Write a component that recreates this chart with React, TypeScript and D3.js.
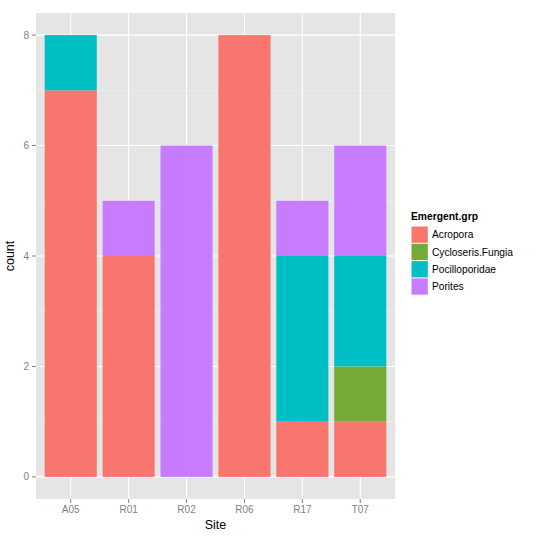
import React from "react";
import * as d3 from "d3";

const sites = ["A05", "R01", "R02", "R06", "R17", "T07"];
const groups = ["Acropora", "Cycloseris.Fungia", "Pocilloporidae", "Porites"];
const colors = ["#F8766D", "#73AA38", "#00BFC4", "#C77CFF"];
const acropora = [7, 4, 0, 8, 1, 1];
const cycloseris = [0, 0, 0, 0, 0, 1];
const pocilloporidae = [1, 0, 0, 0, 3, 2];
const porites = [0, 1, 6, 0, 1, 2];
const yTicks = [0, 2, 4, 6, 8];
const yMinor = [1, 3, 5, 7];

const W = 540, H = 537;
const panel = { left: 36, top: 13, right: 395, bottom: 499 };

export default function App() {
  const rows = sites.map((s, i) => ({
    site: s,
    Acropora: acropora[i],
    "Cycloseris.Fungia": cycloseris[i],
    Pocilloporidae: pocilloporidae[i],
    Porites: porites[i],
  }));
  const stack = d3.stack<any>().keys(groups)(rows);
  const n = sites.length;
  const xLin = d3.scaleLinear().domain([0.4, n + 0.6]).range([panel.left, panel.right]);
  const y = d3.scaleLinear().domain([-0.4, 8.4]).range([panel.bottom, panel.top]);
  const barW = xLin(1.45) - xLin(0.55);
  const color = d3.scaleOrdinal<string, string>().domain(groups).range(colors);
  const font = "Helvetica, Arial, 'Liberation Sans', sans-serif";

  return (
    <svg width={W} height={H} style={{ position: "absolute", left: 0, top: 0, background: "#fff" }} fontFamily={font}>
      <rect x={panel.left} y={panel.top} width={panel.right - panel.left} height={panel.bottom - panel.top} fill="#E5E5E5" />
      {yMinor.map((t) => (
        <line key={"m" + t} x1={panel.left} x2={panel.right} y1={y(t)} y2={y(t)} stroke="#F2F2F2" strokeWidth={0.6} />
      ))}
      {yTicks.map((t) => (
        <line key={"g" + t} x1={panel.left} x2={panel.right} y1={y(t)} y2={y(t)} stroke="#fff" strokeWidth={1.1} />
      ))}
      {sites.map((s, i) => (
        <line key={"v" + s} x1={xLin(i + 1)} x2={xLin(i + 1)} y1={panel.top} y2={panel.bottom} stroke="#fff" strokeWidth={1.1} />
      ))}
      {stack.map((layer) =>
        layer.map((d, i) =>
          d[1] > d[0] ? (
            <rect
              key={layer.key + i}
              x={xLin(i + 1) - barW / 2}
              y={y(d[1])}
              width={barW}
              height={y(d[0]) - y(d[1])}
              fill={color(layer.key as string)}
            />
          ) : null
        )
      )}
      {yTicks.map((t) => (
        <g key={"yt" + t}>
          <line x1={panel.left - 4} x2={panel.left} y1={y(t)} y2={y(t)} stroke="#7F7F7F" />
          <text x={panel.left - 7} y={y(t)} dy="0.35em" textAnchor="end" fontSize={10} fill="#7F7F7F">
            {t}
          </text>
        </g>
      ))}
      {sites.map((s, i) => (
        <g key={"xt" + s}>
          <line x1={xLin(i + 1)} x2={xLin(i + 1)} y1={panel.bottom} y2={panel.bottom + 4} stroke="#7F7F7F" />
          <text x={xLin(i + 1)} y={panel.bottom + 14} textAnchor="middle" fontSize={10} fill="#7F7F7F">
            {s}
          </text>
        </g>
      ))}
      <text x={(panel.left + panel.right) / 2} y={529} textAnchor="middle" fontSize={12.5} fill="#000">
        Site
      </text>
      <text transform={`translate(14, ${(panel.top + panel.bottom) / 2}) rotate(-90)`} textAnchor="middle" fontSize={12.5} fill="#000">
        count
      </text>
      <g>
        <text x={411} y={220} fontSize={10.3} fontWeight="bold" fill="#000">
          Emergent.grp
        </text>
        {groups.map((g, i) => (
          <g key={"lg" + g}>
            <rect x={411} y={226 + i * 17.3} width={17.3} height={17.3} fill="#fff" />
            <rect x={411.5} y={226.5 + i * 17.3} width={16.3} height={16.3} fill={color(g)} />
            <text x={432} y={226 + i * 17.3 + 8.65} dy="0.35em" fontSize={10.2} fill="#000">
              {g}
            </text>
          </g>
        ))}
      </g>
    </svg>
  );
}
